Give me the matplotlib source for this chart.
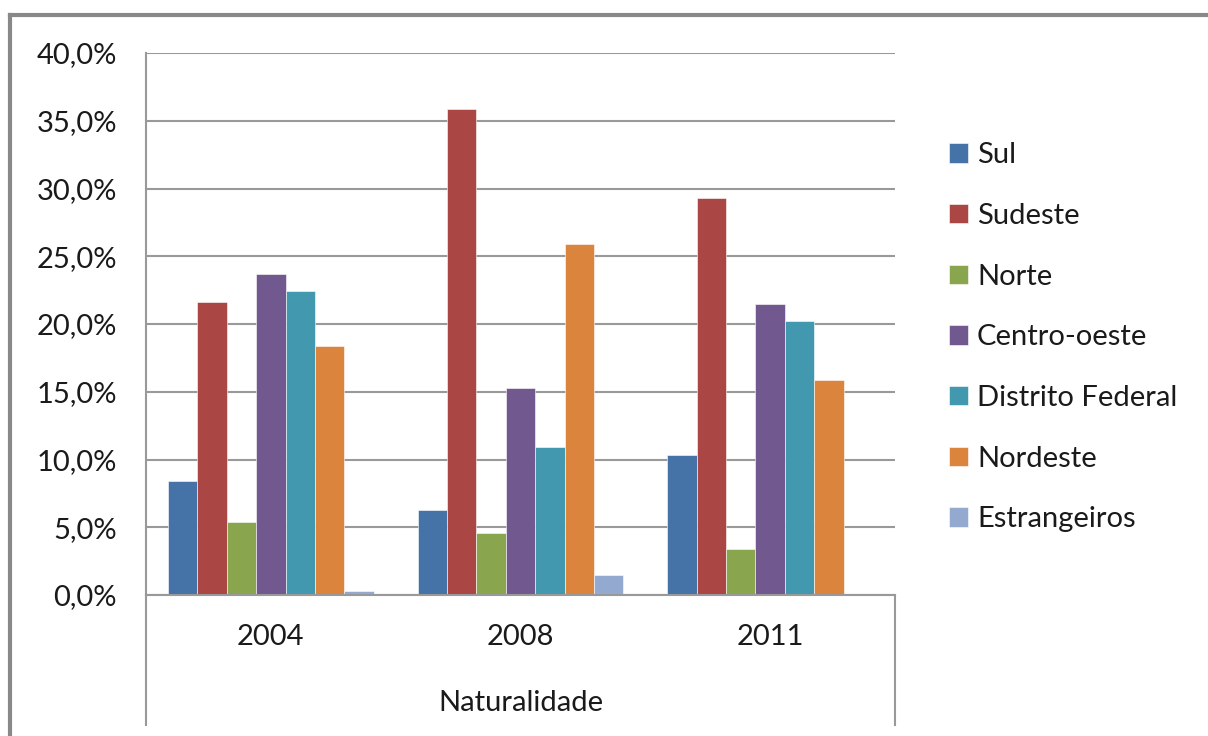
import matplotlib.pyplot as plt
from matplotlib.lines import Line2D
import numpy as np

# data (percent)
anos = ["2004", "2008", "2011"]
regioes = ["Sul", "Sudeste", "Norte", "Centro-oeste", "Distrito Federal",
           "Nordeste", "Estrangeiros"]
sul = [8.4, 6.3, 10.3]
sudeste = [21.6, 35.9, 29.3]
norte = [5.4, 4.6, 3.4]
centro_oeste = [23.7, 15.3, 21.5]
distrito_federal = [22.4, 10.9, 20.2]
nordeste = [18.4, 25.9, 15.9]
estrangeiros = [0.3, 1.5, 0.0]

series = [sul, sudeste, norte, centro_oeste, distrito_federal, nordeste, estrangeiros]
cores = ["#4572A7", "#AA4643", "#89A54E", "#71588F", "#4198AF", "#DB843D", "#93A9CF"]

plt.rcParams['font.family'] = ['Lato', 'DejaVu Sans']
fs = 21
txt = "#1a1a1a"

fig = plt.figure(figsize=(12.08, 7.36), dpi=100)
ax = fig.add_axes([146 / 1208, 141 / 736, 749 / 1208, 542 / 736])

x = np.arange(len(anos))
w = 0.825 / len(series)
for i, (vals, nome, cor) in enumerate(zip(series, regioes, cores)):
    ax.bar(x + (i - 3) * w, vals, w, color=cor, edgecolor="white", linewidth=0.4,
           label=nome, zorder=3)

ax.set_xlim(-0.5, 2.5)
ax.set_ylim(0, 40)
ax.set_yticks(np.arange(0, 41, 5))
ax.set_yticklabels([f"{v:.1f}%".replace(".", ",") for v in np.arange(0, 41, 5)],
                   fontsize=fs, color=txt)
ax.tick_params(axis="y", length=0, pad=21)
ax.tick_params(axis="x", length=0)
ax.set_xticks([])
ax.yaxis.grid(True, color="#999999", linewidth=1.5, zorder=0)

for s in ["top", "right", "bottom"]:
    ax.spines[s].set_visible(False)
ax.spines["left"].set_color("#999999")
ax.spines["left"].set_linewidth(1.5)

# category axis box (Excel multi-level axis)
box_bottom = -(725 - 595) / 542
ax.add_line(Line2D([0, 1], [0, 0], transform=ax.transAxes, color="#999999",
                   lw=1.5, clip_on=False, zorder=4))
ax.add_line(Line2D([0, 0], [0, box_bottom], transform=ax.transAxes, color="#999999",
                   lw=1.5, clip_on=False))
ax.add_line(Line2D([1, 1], [0, box_bottom], transform=ax.transAxes, color="#999999",
                   lw=1.5, clip_on=False))

for xi, ano in zip(x, anos):
    ax.text(xi, -(637 - 595) / 542 * 40, ano, ha="center", va="center",
            fontsize=fs, color=txt)
ax.text(0.5, -(703 - 595) / 542, "Naturalidade", transform=ax.transAxes,
        ha="center", va="center", fontsize=fs, color=txt)

leg = ax.legend(loc="upper left", bbox_to_anchor=(1.057, 0.857), frameon=False,
                fontsize=fs, handlelength=0.65, handleheight=0.65,
                handletextpad=0.3, labelspacing=1.19, borderaxespad=0)
for t in leg.get_texts():
    t.set_color(txt)

# outer chart border
fig.add_artist(Line2D([10 / 1208, 10 / 1208], [0, 1 - 15 / 736], color="#888888",
                      lw=3, transform=fig.transFigure))
fig.add_artist(Line2D([10 / 1208, 1], [1 - 15 / 736, 1 - 15 / 736], color="#888888",
                      lw=3, transform=fig.transFigure))

fig.savefig("out.png", dpi=100)
